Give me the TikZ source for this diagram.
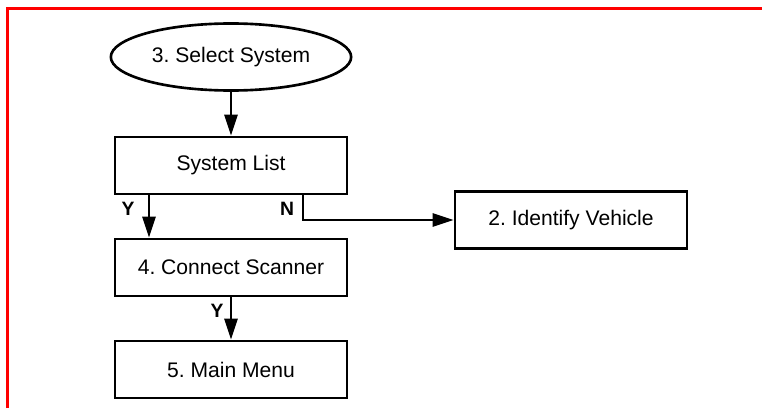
\documentclass[tikz,border=0pt]{standalone}
\usepackage{fontspec}
\setmainfont{Liberation Sans}
\frenchspacing
\usetikzlibrary{shapes.geometric,arrows.meta}

\begin{document}
\begin{tikzpicture}[
    box/.style={draw, line width=1.5pt, minimum width=4.64cm, minimum height=1.14cm, font=\fontsize{12}{14}\selectfont},
    oval/.style={draw, ellipse, line width=1.5pt, minimum width=4.74cm, minimum height=1.34cm, font=\fontsize{12}{14}\selectfont},
    yn/.style={font=\fontsize{11}{13}\selectfont\bfseries},
    flow/.style={line width=1.4pt, -{Triangle[length=12pt,width=7.5pt]}}
]
            \useasboundingbox (0, 0) rectangle (15.24, 8.16);
            \draw[red, line width=1.7pt] (0.15, 0) -- (0.15, 7.99) -- (15.24, 7.99);

            \node[oval] (select) at (4.62, 7.02) {3. Select System};
            \node[box] (syslist) at (4.62, 4.85) {System List};
            \node[box] (connect) at (4.62, 2.81) {4. Connect Scanner};
            \node[box] (mainmenu) at (4.62, 0.77) {5. Main Menu};
            \node[box] (identify) at (11.42, 3.76) {2. Identify Vehicle};

            \draw[flow] (select) -- (syslist);
            \draw[flow] (syslist.south -| 2.98, 0) -- (connect.north -| 2.98, 0);
            \node[yn] (y1) at (2.56, 3.98) {Y};
            \draw[flow] (syslist.south -| 6.06, 0) |- (identify.west);
            \node[yn] (n1) at (5.74, 3.98) {N};
            \draw[flow] (connect) -- (mainmenu);
            \node[yn] (y2) at (4.34, 1.94) {Y};
        \end{tikzpicture}
\end{document}
